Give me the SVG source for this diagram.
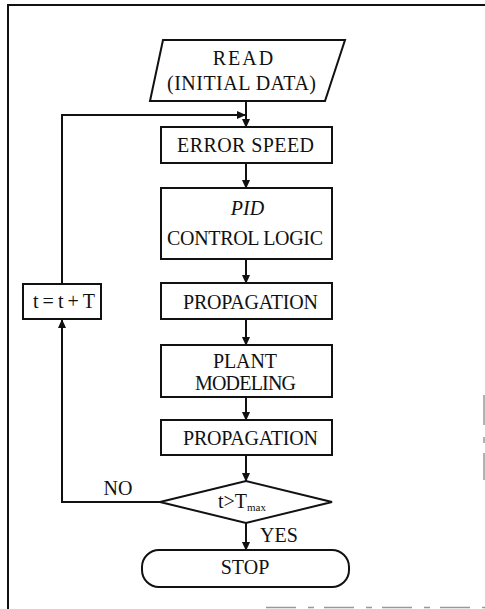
<svg xmlns="http://www.w3.org/2000/svg" width="485" height="609" viewBox="0 0 485 609">
  <style>
    .shape { fill: #fff; stroke: #111; stroke-width: 2; }
    .wire { fill: none; stroke: #111; stroke-width: 2; }
    .lbl { font-family: "Liberation Serif", "Times New Roman", serif; font-size: 20px; fill: #111; text-anchor: middle; }
    .frame { fill: none; stroke: #111; stroke-width: 2; }
    .frame-faint { fill: none; stroke: #999; stroke-width: 1.5; stroke-dasharray: 30 12 6 10; }
  </style>
  <defs>
    <marker id="arrow" markerUnits="userSpaceOnUse" markerWidth="9" markerHeight="8" refX="8" refY="4" orient="auto">
      <path d="M0,0 L9,4 L0,8 Z" fill="#111"/>
    </marker>
  </defs>

  <!-- page frame -->
  <g id="frame">
    <path class="frame" d="M8,609 L8,5 L485,5"/>
    <path class="frame-faint" d="M484,395 L484,480"/>
    <path class="frame-faint" d="M266,607.5 L485,607.5"/>
  </g>

  <!-- connectors -->
  <g id="connectors">
    <path class="wire" d="M246,101 L246,127" marker-end="url(#arrow)"/>
    <path class="wire" d="M246,163 L246,188" marker-end="url(#arrow)"/>
    <path class="wire" d="M246,259 L246,283" marker-end="url(#arrow)"/>
    <path class="wire" d="M246,319 L246,345" marker-end="url(#arrow)"/>
    <path class="wire" d="M246,397 L246,420" marker-end="url(#arrow)"/>
    <path class="wire" d="M246,455 L246,481" marker-end="url(#arrow)"/>
    <path class="wire" d="M246,523 L246,550" marker-end="url(#arrow)"/>
    <!-- NO branch back to the loop head -->
    <path class="wire" d="M160,502 L62,502 L62,320" marker-end="url(#arrow)"/>
    <path class="wire" d="M62,284 L62,115 L245,115" marker-end="url(#arrow)"/>
    <text class="lbl" x="118" y="495" font-size="18">NO</text>
    <text class="lbl" x="279" y="542">YES</text>
  </g>

  <g id="read">
    <polygon class="shape" points="163,40 345,40 325,101 150,101"/>
    <text class="lbl" x="244" y="65" letter-spacing="2">READ</text>
    <text class="lbl" x="241.5" y="90" textLength="149">(INITIAL DATA)</text>
  </g>

  <g id="error-speed">
    <rect class="shape" x="161" y="127" width="171" height="36"/>
    <text class="lbl" x="245.5" y="152" textLength="137">ERROR SPEED</text>
  </g>

  <g id="pid">
    <rect class="shape" x="161" y="188" width="171" height="71"/>
    <text class="lbl" x="247.5" y="215" font-style="italic">PID</text>
    <text class="lbl" x="245" y="245" textLength="156">CONTROL LOGIC</text>
  </g>

  <g id="propagation-1">
    <rect class="shape" x="161" y="283" width="171" height="36"/>
    <text class="lbl" x="250.5" y="309" textLength="135">PROPAGATION</text>
  </g>

  <g id="plant">
    <rect class="shape" x="161" y="345" width="171" height="52"/>
    <text class="lbl" x="245" y="368" font-size="18" textLength="64">PLANT</text>
    <text class="lbl" x="245.5" y="390" font-size="18" textLength="101">MODELING</text>
  </g>

  <g id="propagation-2">
    <rect class="shape" x="161" y="420" width="171" height="35"/>
    <text class="lbl" x="250.5" y="445" textLength="135">PROPAGATION</text>
  </g>

  <g id="step-time">
    <rect class="shape" x="23" y="284" width="78" height="35"/>
    <text class="lbl" x="64" y="308" textLength="62">t=t+T</text>
  </g>

  <g id="check-time">
    <polygon class="shape" points="160,502 246,481 332,502 246,523"/>
    <text class="lbl" x="242" y="508" font-size="19">t&gt;T<tspan font-size="11" dy="3">max</tspan></text>
  </g>

  <g id="stop">
    <rect class="shape" x="142" y="550" width="207" height="37" rx="17" ry="17"/>
    <text class="lbl" x="245" y="574" font-size="19">STOP</text>
  </g>
</svg>
